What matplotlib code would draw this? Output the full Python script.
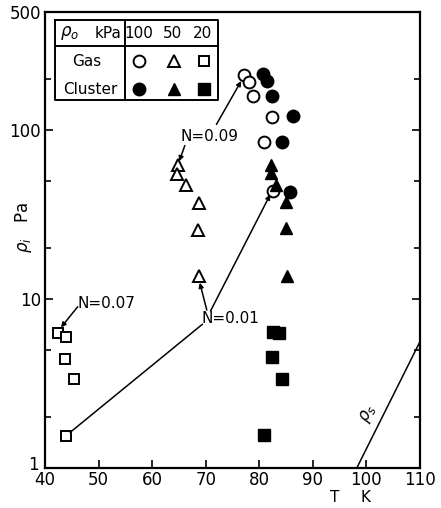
import matplotlib
matplotlib.use("Agg")
import matplotlib.pyplot as plt
from matplotlib.lines import Line2D
from matplotlib.ticker import FixedLocator, NullFormatter
from matplotlib.transforms import ScaledTranslation

# ── data (T in K, p_i in Pa) ────────────────────────────────────────────────
gas_100_T = [77.1, 78.1, 78.9, 82.4, 80.9, 82.5]
gas_100_p = [211, 193, 159, 120, 85, 43.7]
gas_50_T = [64.8, 64.7, 66.4, 68.7, 68.6, 68.7]
gas_50_p = [62, 54.7, 47.3, 36.8, 25.8, 13.6]
gas_20_T = [42.5, 43.9, 43.7, 45.5, 43.9]
gas_20_p = [6.3, 6.0, 4.4, 3.35, 1.55]

cl_100_T = [80.7, 81.5, 82.3, 86.2, 84.3, 85.8]
cl_100_p = [214, 196, 160, 121, 85, 43.2]
cl_50_T = [82.2, 82.2, 83.2, 84.9, 84.9, 85.1]
cl_50_p = [62, 55.5, 47.3, 37.6, 26.2, 13.7]
cl_20_T = [82.6, 83.7, 82.3, 84.3, 80.9]
cl_20_p = [6.4, 6.27, 4.52, 3.36, 1.57]

# saturation curve p_s
ps_T = [98.2, 110.0]
ps_p = [1.0, 5.6]

W, H = 441, 508
fig = plt.figure(figsize=(W / 100, H / 100), dpi=100)
ax = fig.add_axes([45 / W, 1 - 468 / H, 375 / W, 456 / H])


def fp(x, y):
    # figure pixel -> figure fraction
    return x / W, 1 - y / H


K = "black"
LW = 1.1
ax.plot(gas_100_T, gas_100_p, "o", ms=8.5, mfc="white", mec=K, mew=1.4, ls="none", zorder=3)
ax.plot(gas_50_T, gas_50_p, "^", ms=8, mfc="white", mec=K, mew=1.4, ls="none", zorder=3)
ax.plot(gas_20_T, gas_20_p, "s", ms=7.5, mfc="white", mec=K, mew=1.4, ls="none", zorder=3)
ax.plot(cl_100_T, cl_100_p, "o", ms=9, color=K, ls="none", zorder=3)
ax.plot(cl_50_T, cl_50_p, "^", ms=8.5, color=K, ls="none", zorder=3)
ax.plot(cl_20_T, cl_20_p, "s", ms=8, color=K, ls="none", zorder=3)

ax.plot(ps_T, ps_p, color=K, lw=LW, clip_on=True)
ax.text(100.3, 2.1, r"$\rho_s$", rotation=63, fontsize=12, ha="center", va="center")

# ── annotations ─────────────────────────────────────────────────────────────
arrow = dict(arrowstyle="-|>", color=K, lw=LW, mutation_scale=7, shrinkA=0, shrinkB=3)
line = dict(arrowstyle="-", color=K, lw=LW, shrinkA=0, shrinkB=4)

ax.text(69.3, 7.7, "N=0.01", fontsize=11, ha="left", va="center")
ax.annotate("", xy=(43.9, 1.55), xytext=(69.4, 7.1), arrowprops=line)
ax.annotate("", xy=(82.4, 43.7), xytext=(70.9, 8.5), arrowprops=arrow)
ax.annotate("", xy=(68.7, 13.2), xytext=(70.2, 8.6), arrowprops=arrow)

ax.text(46.0, 9.4, "N=0.07", fontsize=11, ha="left", va="center")
ax.annotate("", xy=(42.5, 6.5), xytext=(46.1, 9.0), arrowprops=arrow)

ax.text(65.2, 92, "N=0.09", fontsize=11, ha="left", va="center")
ax.annotate("", xy=(77.0, 205), xytext=(72.0, 108), arrowprops=arrow)
ax.annotate("", xy=(64.8, 62), xytext=(66.1, 81), arrowprops=arrow)

# ── axes ────────────────────────────────────────────────────────────────────
ax.set_yscale("log")
ax.set_xlim(40, 110)
ax.set_ylim(1, 500)
ax.set_xticks(range(40, 111, 10))
ax.yaxis.set_major_locator(FixedLocator([1, 10, 100, 500]))
ax.set_yticklabels(["1", "10", "100", "500"])
ax.yaxis.set_minor_locator(FixedLocator([2, 5, 20, 50, 200]))
ax.yaxis.set_minor_formatter(NullFormatter())
ax.tick_params(axis="both", which="both", direction="in", labelsize=12, width=1.2,
               right=True, top=False)
ax.tick_params(axis="x", pad=2)
ax.tick_params(axis="y", pad=3)
ax.tick_params(which="major", length=6)
ax.tick_params(which="minor", length=4)
for s in ax.spines.values():
    s.set_linewidth(1.6)

# nudge the "1" label up-left so it clears the "40"
lab1 = ax.yaxis.get_major_ticks()[0].label1
lab1.set_transform(lab1.get_transform() + ScaledTranslation(-2 / 100, 5 / 100, fig.dpi_scale_trans))

fig.text(*fp(335, 497), "T", fontsize=11, ha="center", va="center")
fig.text(*fp(366, 497), "K", fontsize=11, ha="center", va="center")
fig.text(*fp(24, 228), r"$\rho_i$   Pa", fontsize=12, rotation=90, ha="center", va="center")

# ── legend table ────────────────────────────────────────────────────────────
x0, x1, xm = 55, 218, 125
y0, y1, ym = 20, 100, 45.5
for xs, ys in [([x0, x1, x1, x0, x0], [y0, y0, y1, y1, y0]),
               ([xm, xm], [y0, y1]), ([x0, x1], [ym, ym])]:
    fx = [x / W for x in xs]
    fy = [1 - y / H for y in ys]
    fig.add_artist(Line2D(fx, fy, color=K, lw=1.4, transform=fig.transFigure))

fig.text(*fp(70, 33), r"$\rho_o$", fontsize=12, ha="center", va="center")
fig.text(*fp(108, 33), "kPa", fontsize=11, ha="center", va="center")
for xc, lab in [(139, "100"), (172, "50"), (203, "20")]:
    fig.text(*fp(xc, 33), lab, fontsize=11, ha="center", va="center")
fig.text(*fp(87, 61), "Gas", fontsize=11, ha="center", va="center")
fig.text(*fp(90, 89), "Cluster", fontsize=11, ha="center", va="center")

for xc, m, ms in [(139, "o", 8.5), (174, "^", 8), (204, "s", 7.5)]:
    fig.add_artist(Line2D([xc / W], [1 - 61 / H], marker=m, ms=ms, mfc="white", mec=K,
                          mew=1.4, ls="none", transform=fig.transFigure))
    fig.add_artist(Line2D([xc / W], [1 - 89 / H], marker=m, ms=ms + 0.5, color=K,
                          ls="none", transform=fig.transFigure))

fig.savefig("out.png", dpi=100, facecolor="white")
